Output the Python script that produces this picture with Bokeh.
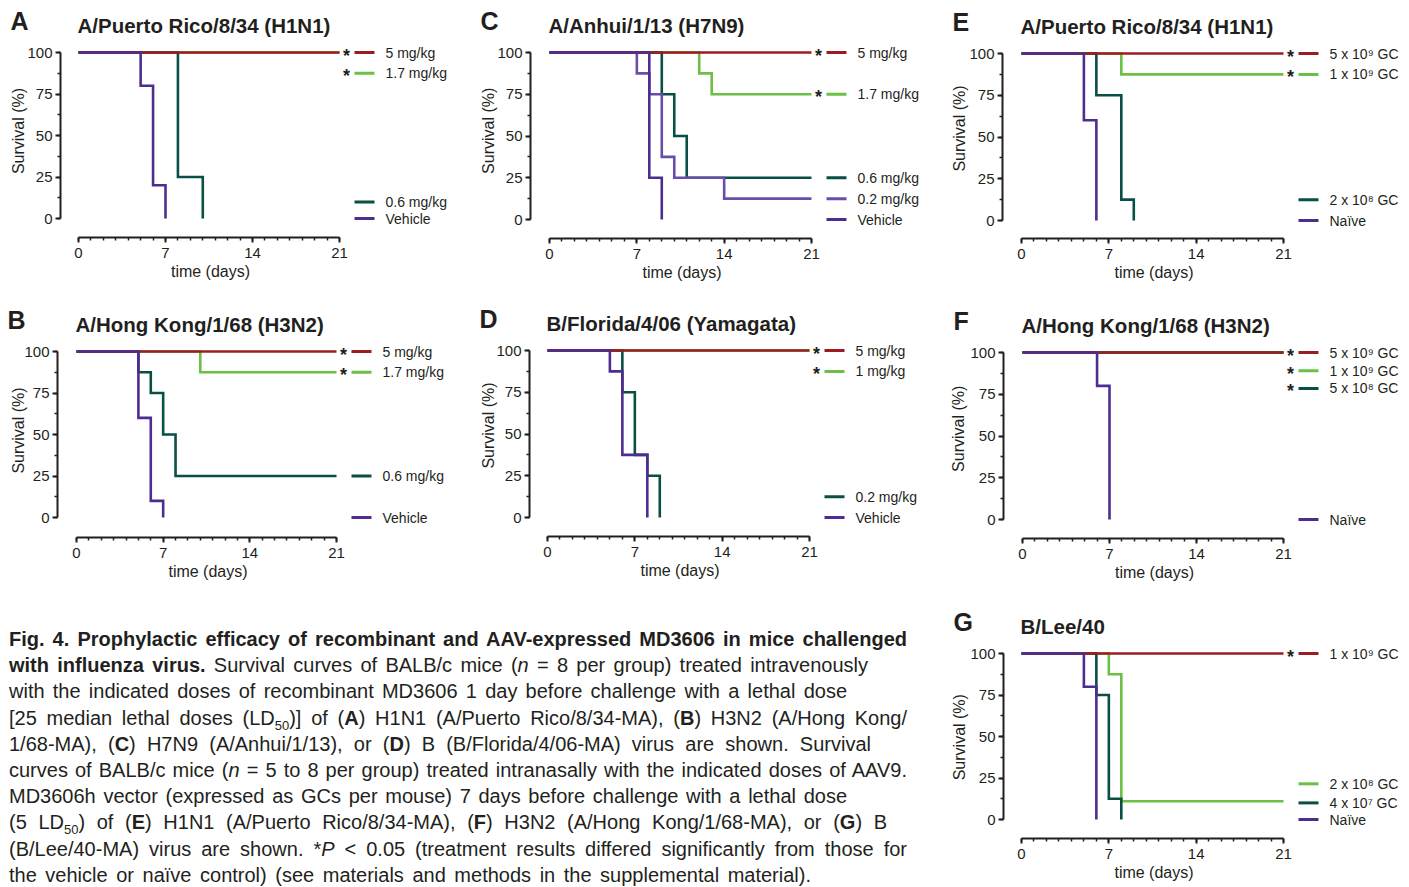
import math
from bokeh.plotting import figure
from bokeh.models import Range1d, FixedTicker, Label, Div
from bokeh.layouts import column, row
from bokeh.embed import file_html
from bokeh.resources import INLINE

# ---------------- data (survival %, Kaplan-Meier steps) ----------------
# Panel A  A/Puerto Rico/8/34 (H1N1), recombinant MD3606
A_labels = ["5 mg/kg", "1.7 mg/kg", "0.6 mg/kg", "Vehicle"]
A_days = [[0, 21], [0, 21], [0, 8, 10], [0, 5, 6, 7]]
A_surv = [[100, 100], [100, 100], [100, 25, 0], [100, 80, 20, 0]]
A_star = [True, True, False, False]

# Panel B  A/Hong Kong/1/68 (H3N2)
B_labels = ["5 mg/kg", "1.7 mg/kg", "0.6 mg/kg", "Vehicle"]
B_days = [[0, 21], [0, 10, 21], [0, 5, 6, 7, 8, 21], [0, 5, 6, 7]]
B_surv = [[100, 100], [100, 87.5, 87.5], [100, 87.5, 75, 50, 25, 25], [100, 60, 10, 0]]
B_star = [True, True, False, False]

# Panel C  A/Anhui/1/13 (H7N9)
C_labels = ["5 mg/kg", "1.7 mg/kg", "0.6 mg/kg", "0.2 mg/kg", "Vehicle"]
C_days = [[0, 21], [0, 12, 13, 21], [0, 9, 10, 11, 21], [0, 7, 8, 9, 10, 14, 21], [0, 8, 9]]
C_surv = [[100, 100], [100, 87.5, 75, 75], [100, 75, 50, 25, 25],
          [100, 87.5, 75, 37.5, 25, 12.5, 12.5], [100, 25, 0]]
C_star = [True, True, False, False, False]

# Panel D  B/Florida/4/06 (Yamagata)
D_labels = ["5 mg/kg", "1 mg/kg", "0.2 mg/kg", "Vehicle"]
D_days = [[0, 21], [0, 21], [0, 6, 7, 8, 9], [0, 5, 6, 8]]
D_surv = [[100, 100], [100, 100], [100, 75, 37.5, 25, 0], [100, 87.5, 37.5, 0]]
D_star = [True, True, False, False]

# Panel E  A/Puerto Rico/8/34 (H1N1), AAV9.MD3606h
E_labels = ["5 x 10\u2079 GC", "1 x 10\u2079 GC", "2 x 10\u2078 GC", "Na\u00efve"]
E_days = [[0, 21], [0, 8, 21], [0, 6, 8, 9], [0, 5, 6]]
E_surv = [[100, 100], [100, 87.5, 87.5], [100, 75, 12.5, 0], [100, 60, 0]]
E_star = [True, True, False, False]

# Panel F  A/Hong Kong/1/68 (H3N2)
F_labels = ["5 x 10\u2079 GC", "1 x 10\u2079 GC", "5 x 10\u2078 GC", "Na\u00efve"]
F_days = [[0, 21], [0, 21], [0, 21], [0, 6, 7]]
F_surv = [[100, 100], [100, 100], [100, 100], [100, 80, 0]]
F_star = [True, True, True, False]

# Panel G  B/Lee/40
G_labels = ["1 x 10\u2079 GC", "2 x 10\u2078 GC", "4 x 10\u2077 GC", "Na\u00efve"]
G_days = [[0, 21], [0, 7, 8, 21], [0, 6, 7, 8], [0, 5, 6]]
G_surv = [[100, 100], [100, 87.5, 11, 11], [100, 75, 12.5, 0], [100, 80, 0]]
G_star = [True, False, False, False]

x_ticks = [0, 7, 14, 21]
y_ticks = [0, 25, 50, 75, 100]

caption_lines = [
    "<b>Fig. 4. Prophylactic efficacy of recombinant and AAV-expressed MD3606 in mice challenged</b>",
    "<b>with influenza virus.</b> Survival curves of BALB/c mice (<i>n</i> = 8 per group) treated intravenously",
    "with the indicated doses of recombinant MD3606 1 day before challenge with a lethal dose",
    "[25 median lethal doses (LD<sub>50</sub>)] of (<b>A</b>) H1N1 (A/Puerto Rico/8/34-MA), (<b>B</b>) H3N2 (A/Hong Kong/",
    "1/68-MA), (<b>C</b>) H7N9 (A/Anhui/1/13), or (<b>D</b>) B (B/Florida/4/06-MA) virus are shown. Survival",
    "curves of BALB/c mice (<i>n</i> = 5 to 8 per group) treated intranasally with the indicated doses of AAV9.",
    "MD3606h vector (expressed as GCs per mouse) 7 days before challenge with a lethal dose",
    "(5 LD<sub>50</sub>) of (<b>E</b>) H1N1 (A/Puerto Rico/8/34-MA), (<b>F</b>) H3N2 (A/Hong Kong/1/68-MA), or (<b>G</b>) B",
    "(B/Lee/40-MA) virus are shown. *<i>P</i> &lt; 0.05 (treatment results differed significantly from those for",
    "the vehicle or na\u00efve control) (see materials and methods in the supplemental material).",
]

# ---------------- style / layout ----------------
RED = "#9d1c22"
GREEN = "#6dbf45"
TEAL = "#0a4f45"
PURPLE = "#4f2c8f"
PURPLE_L = "#6a4cab"
INK = "#231f20"
FONT = "Liberation Sans"
PRIORITY = {GREEN: 0, TEAL: 1, PURPLE_L: 2, RED: 3, PURPLE: 4}

# page-pixel geometry of each panel (box = left, top, width, height)
GEOM = {
    "A": dict(box=(0, 0, 470, 290), yax=60, x0=78, x21=339, y100=52, y0=218, xax=237, ylab=(18, 130.5),
              key=[100, 87.5, 10, 0]),
    "C": dict(box=(470, 0, 470, 290), yax=530, x0=549, x21=811, y100=52, y0=219, xax=238, ylab=(488.3, 130.3),
              key=[100, 75, 25, 12.5, 0]),
    "E": dict(box=(940, 0, 468, 290), yax=1002, x0=1021, x21=1283, y100=53, y0=220, xax=238, ylab=(958.8, 128),
              key=[100, 87.5, 12.5, 0]),
    "B": dict(box=(0, 290, 470, 300), yax=57, x0=76, x21=336, y100=351, y0=517, xax=537, ylab=(18, 430),
              key=[100, 87.5, 25, 0]),
    "D": dict(box=(470, 290, 470, 300), yax=529, x0=547, x21=809, y100=350, y0=517, xax=536, ylab=(488.3, 425),
              key=[100, 87.5, 12.5, 0]),
    "F": dict(box=(940, 290, 468, 300), yax=1003, x0=1022, x21=1283, y100=352, y0=519, xax=538, ylab=(958.3, 428.3),
              key=[100, 89, 78.5, 0]),
    "G": dict(box=(940, 590, 468, 296), yax=1003, x0=1021, x21=1283, y100=653, y0=819, xax=838, ylab=(959, 736.7),
              key=[100, 21.5, 10, 0]),
}


def panel(letter, title, labels, days, surv, stars, colors):
    g = GEOM[letter]
    fx, fy, fw, fh = g["box"]
    yax, x0, x21, y100, y0, xax = g["yax"], g["x0"], g["x21"], g["y100"], g["y0"], g["xax"]
    ppd = (x21 - x0) / 21.0
    ppu = (y0 - y100) / 100.0

    def X(px):
        return (px - x0) / ppd

    def Y(py):
        return (y0 - py) / ppu

    p = figure(width=fw, height=fh,
               x_range=Range1d(X(fx), X(fx + fw)), y_range=Range1d(Y(fy + fh), Y(fy)),
               output_backend="svg", toolbar_location=None,
               min_border=0, min_border_left=0, min_border_right=0, min_border_top=0,
               min_border_bottom=0)
    p.grid.visible = False
    p.outline_line_color = None
    p.background_fill_color = "white"
    p.border_fill_color = "white"

    for ax in (p.xaxis, p.yaxis):
        ax.axis_line_width = 2
        ax.axis_line_color = INK
        ax.major_tick_line_color = INK
        ax.minor_tick_line_color = INK
        ax.major_tick_line_width = 2
        ax.minor_tick_line_width = 1.5
        ax.major_tick_in = 0
        ax.minor_tick_in = 0
        ax.major_tick_out = 5
        ax.minor_tick_out = 3
        ax.major_label_text_font = FONT
        ax.major_label_text_font_size = "15px"
        ax.major_label_text_color = INK
    p.xaxis.ticker = FixedTicker(ticks=x_ticks, minor_ticks=list(range(0, 22)))
    p.xaxis.bounds = (0, 21)
    p.xaxis.major_label_standoff = 5
    p.xaxis.fixed_location = Y(xax)
    p.yaxis.ticker = FixedTicker(ticks=y_ticks, minor_ticks=[12.5 * k for k in range(9)])
    p.yaxis.bounds = (0, 100)
    p.yaxis.major_label_standoff = 3
    p.yaxis.fixed_location = X(yax)

    order = sorted(range(len(labels)), key=lambda i: PRIORITY[colors[i]])
    for i in order:
        p.step(x=days[i], y=surv[i], mode="after", line_width=2.6, line_color=colors[i],
               line_join="miter")

    # key (Prism style, at the right end of the curves)
    key_y = g["key"]
    p.segment(x0=[X(x21 + 15)] * len(labels), x1=[X(x21 + 35)] * len(labels),
              y0=key_y, y1=key_y, line_color=colors, line_width=3)
    for i, lab in enumerate(labels):
        p.add_layout(Label(x=X(x21 + 46), y=key_y[i], text=lab, text_font=FONT,
                           text_font_size="14px", text_color=INK, text_baseline="middle",
                           text_align="left"))
        if stars[i]:
            ly_px = y0 - key_y[i] * ppu
            p.add_layout(Label(x=X(x21 + 7), y=Y(ly_px + 3), text="*", text_font=FONT,
                               text_font_size="18px", text_font_style="bold", text_color=INK,
                               text_baseline="middle", text_align="center"))

    p.add_layout(Label(x=X(yax - 50), y=Y(y100 - 32), text=letter, text_font=FONT,
                       text_font_style="bold", text_font_size="25px", text_color=INK,
                       text_baseline="middle"))
    p.add_layout(Label(x=X(x0 - 1), y=Y(y100 - 27.5), text=title, text_font=FONT,
                       text_font_style="bold", text_font_size="20.5px", text_color=INK,
                       text_baseline="middle"))
    cx, cy = g["ylab"]
    p.add_layout(Label(x=X(cx), y=Y(cy), text="Survival (%)", angle=math.pi / 2, text_font=FONT,
                       text_font_size="16px", text_color=INK, text_align="center",
                       text_baseline="middle"))
    p.add_layout(Label(x=X((x0 + x21) / 2 + 1.5), y=Y(xax + 33.5), text="time (days)", text_font=FONT,
                       text_font_size="16px", text_color=INK, text_align="center",
                       text_baseline="middle"))
    return p


pA = panel("A", "A/Puerto Rico/8/34 (H1N1)", A_labels, A_days, A_surv, A_star, [RED, GREEN, TEAL, PURPLE])
pB = panel("B", "A/Hong Kong/1/68 (H3N2)", B_labels, B_days, B_surv, B_star, [RED, GREEN, TEAL, PURPLE])
pC = panel("C", "A/Anhui/1/13 (H7N9)", C_labels, C_days, C_surv, C_star, [RED, GREEN, TEAL, PURPLE_L, PURPLE])
pD = panel("D", "B/Florida/4/06 (Yamagata)", D_labels, D_days, D_surv, D_star, [RED, GREEN, TEAL, PURPLE])
pE = panel("E", "A/Puerto Rico/8/34 (H1N1)", E_labels, E_days, E_surv, E_star, [RED, GREEN, TEAL, PURPLE])
pF = panel("F", "A/Hong Kong/1/68 (H3N2)", F_labels, F_days, F_surv, F_star, [RED, GREEN, TEAL, PURPLE])
pG = panel("G", "B/Lee/40", G_labels, G_days, G_surv, G_star, [RED, GREEN, TEAL, PURPLE])

line_widths = [898, 859, 838, 898, 862, 898, 838, 878, 898, 802]
inner = "".join(
    f'<div style="width:{w}px;white-space:nowrap;text-align:justify;text-align-last:justify;">{ln}</div>'
    for ln, w in zip(caption_lines, line_widths)
).replace("<sub>", '<sub style="font-size:13px;line-height:0;">')
html = (f'<div style="padding-top:36px;padding-left:9px;font-family:\'{FONT}\',Arial,sans-serif;'
        f'font-size:20px;line-height:26.2px;color:{INK};">{inner}</div>')
caption = Div(text=html, width=940, height=296, margin=0, styles={"overflow": "hidden"})

layout = column(row(pA, pC, pE), row(pB, pD, pF), row(caption, pG))

with open("out.html", "w") as f:
    f.write(file_html(layout, INLINE))
